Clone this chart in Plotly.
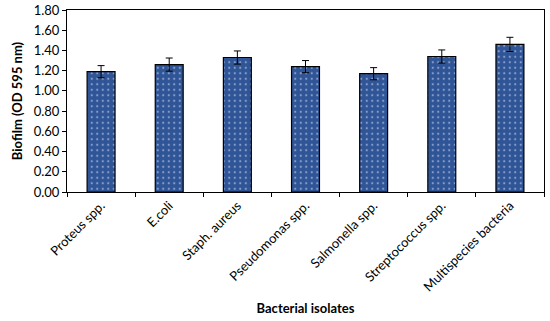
import plotly.graph_objects as go

categories = ["Proteus spp.", "E.coli", "Staph. aureus", "Pseudomonas spp.",
              "Salmonella spp.", "Streptococcus spp.", "Multispecies bacteria"]
values = [1.19, 1.26, 1.33, 1.24, 1.17, 1.34, 1.46]
errors = [0.06, 0.065, 0.065, 0.06, 0.06, 0.065, 0.07]
ytick_vals = [0, 0.2, 0.4, 0.6, 0.8, 1.0, 1.2, 1.4, 1.6, 1.8]
ytick_text = ["0.00", "0.20", "0.40", "0.60", "0.80", "1.00", "1.20", "1.40", "1.60", "1.80"]

fig = go.Figure(go.Bar(
    x=categories, y=values,
    width=0.41,
    marker=dict(color="#2F5597", line=dict(color="black", width=1.2),
                pattern=dict(shape=".", fgcolor="#dfe8f7", bgcolor="#2F5597", size=5.5, solidity=0.12)),
    error_y=dict(type="data", array=errors, color="black", thickness=1, width=3.5),
))

font_family = "Lato, Open Sans, sans-serif"
fig.update_layout(
    width=550, height=321,
    margin=dict(l=67, r=6, t=10, b=129),
    plot_bgcolor="white", paper_bgcolor="white",
    font=dict(family=font_family, size=13, color="black"),
    showlegend=False,
)
fig.update_xaxes(
    automargin=False,
    tickangle=-45, tickfont=dict(size=13),
    showline=True, linecolor="black", linewidth=1, mirror=True,
    ticks="outside", tickson="boundaries", ticklen=4, tickcolor="black",
    title=dict(text="<b>Bacterial isolates</b>", font=dict(size=13), standoff=10),
)
fig.update_yaxes(
    automargin=False, ticklabeloverflow="allow",
    range=[0, 1.8], tickvals=ytick_vals, ticktext=ytick_text,
    showline=True, linecolor="black", linewidth=1, mirror=True,
    ticks="outside", ticklen=4, tickcolor="black", showgrid=False, zeroline=False,
    tickfont=dict(size=13),
    title=dict(text="<b>Biofilm (OD 595 nm)</b>", font=dict(size=13), standoff=8),
)
# remove the browser's default 8px body margin so the figure fills the window
fig.write_html("out.html", config={"displayModeBar": False},
               post_script="document.body.style.margin='0';")
